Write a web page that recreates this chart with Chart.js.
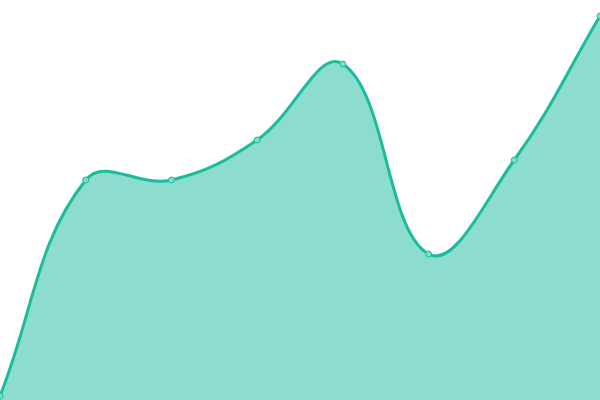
<!DOCTYPE html>
<html>
<head>
<meta charset="utf-8">
<script src="https://cdn.jsdelivr.net/npm/chart.js@4"></script>
<style>
  html, body { margin: 0; padding: 0; background: #fff; }
  #wrap { width: 600px; height: 400px; }
</style>
</head>
<body>
<div id="wrap"><canvas id="myChart"></canvas></div>
<script>
// data
const categories = ['1', '2', '3', '4', '5', '6', '7', '8'];
const values = [1, 55, 55, 65, 84, 36.5, 60, 96];

const ctx = document.getElementById('myChart').getContext('2d');

window.myChart = new Chart(ctx, {
    type: 'line',
    data: {
        labels: categories,
        datasets: [{
            data: values,
            fill: true,
            tension: 0.4,
            borderColor: '#1abc9c',
            backgroundColor: 'rgba(26, 188, 156, 0.5)',
            borderWidth: 3,
            pointRadius: 3,
            pointBorderWidth: 1,
            pointBackgroundColor: 'rgba(120, 224, 200, 1)',
            pointBorderColor: '#1abc9c'
        }]
    },
    options: {
        responsive: true,
        maintainAspectRatio: false,
        animation: false,
        layout: { padding: 0, autoPadding: false },
        scales: {
            x: { display: false },
            y: { display: false, min: 0, max: 100 }
        },
        plugins: {
            legend: { display: false },
            tooltip: { enabled: false }
        }
    }
});
</script>
</body>
</html>
